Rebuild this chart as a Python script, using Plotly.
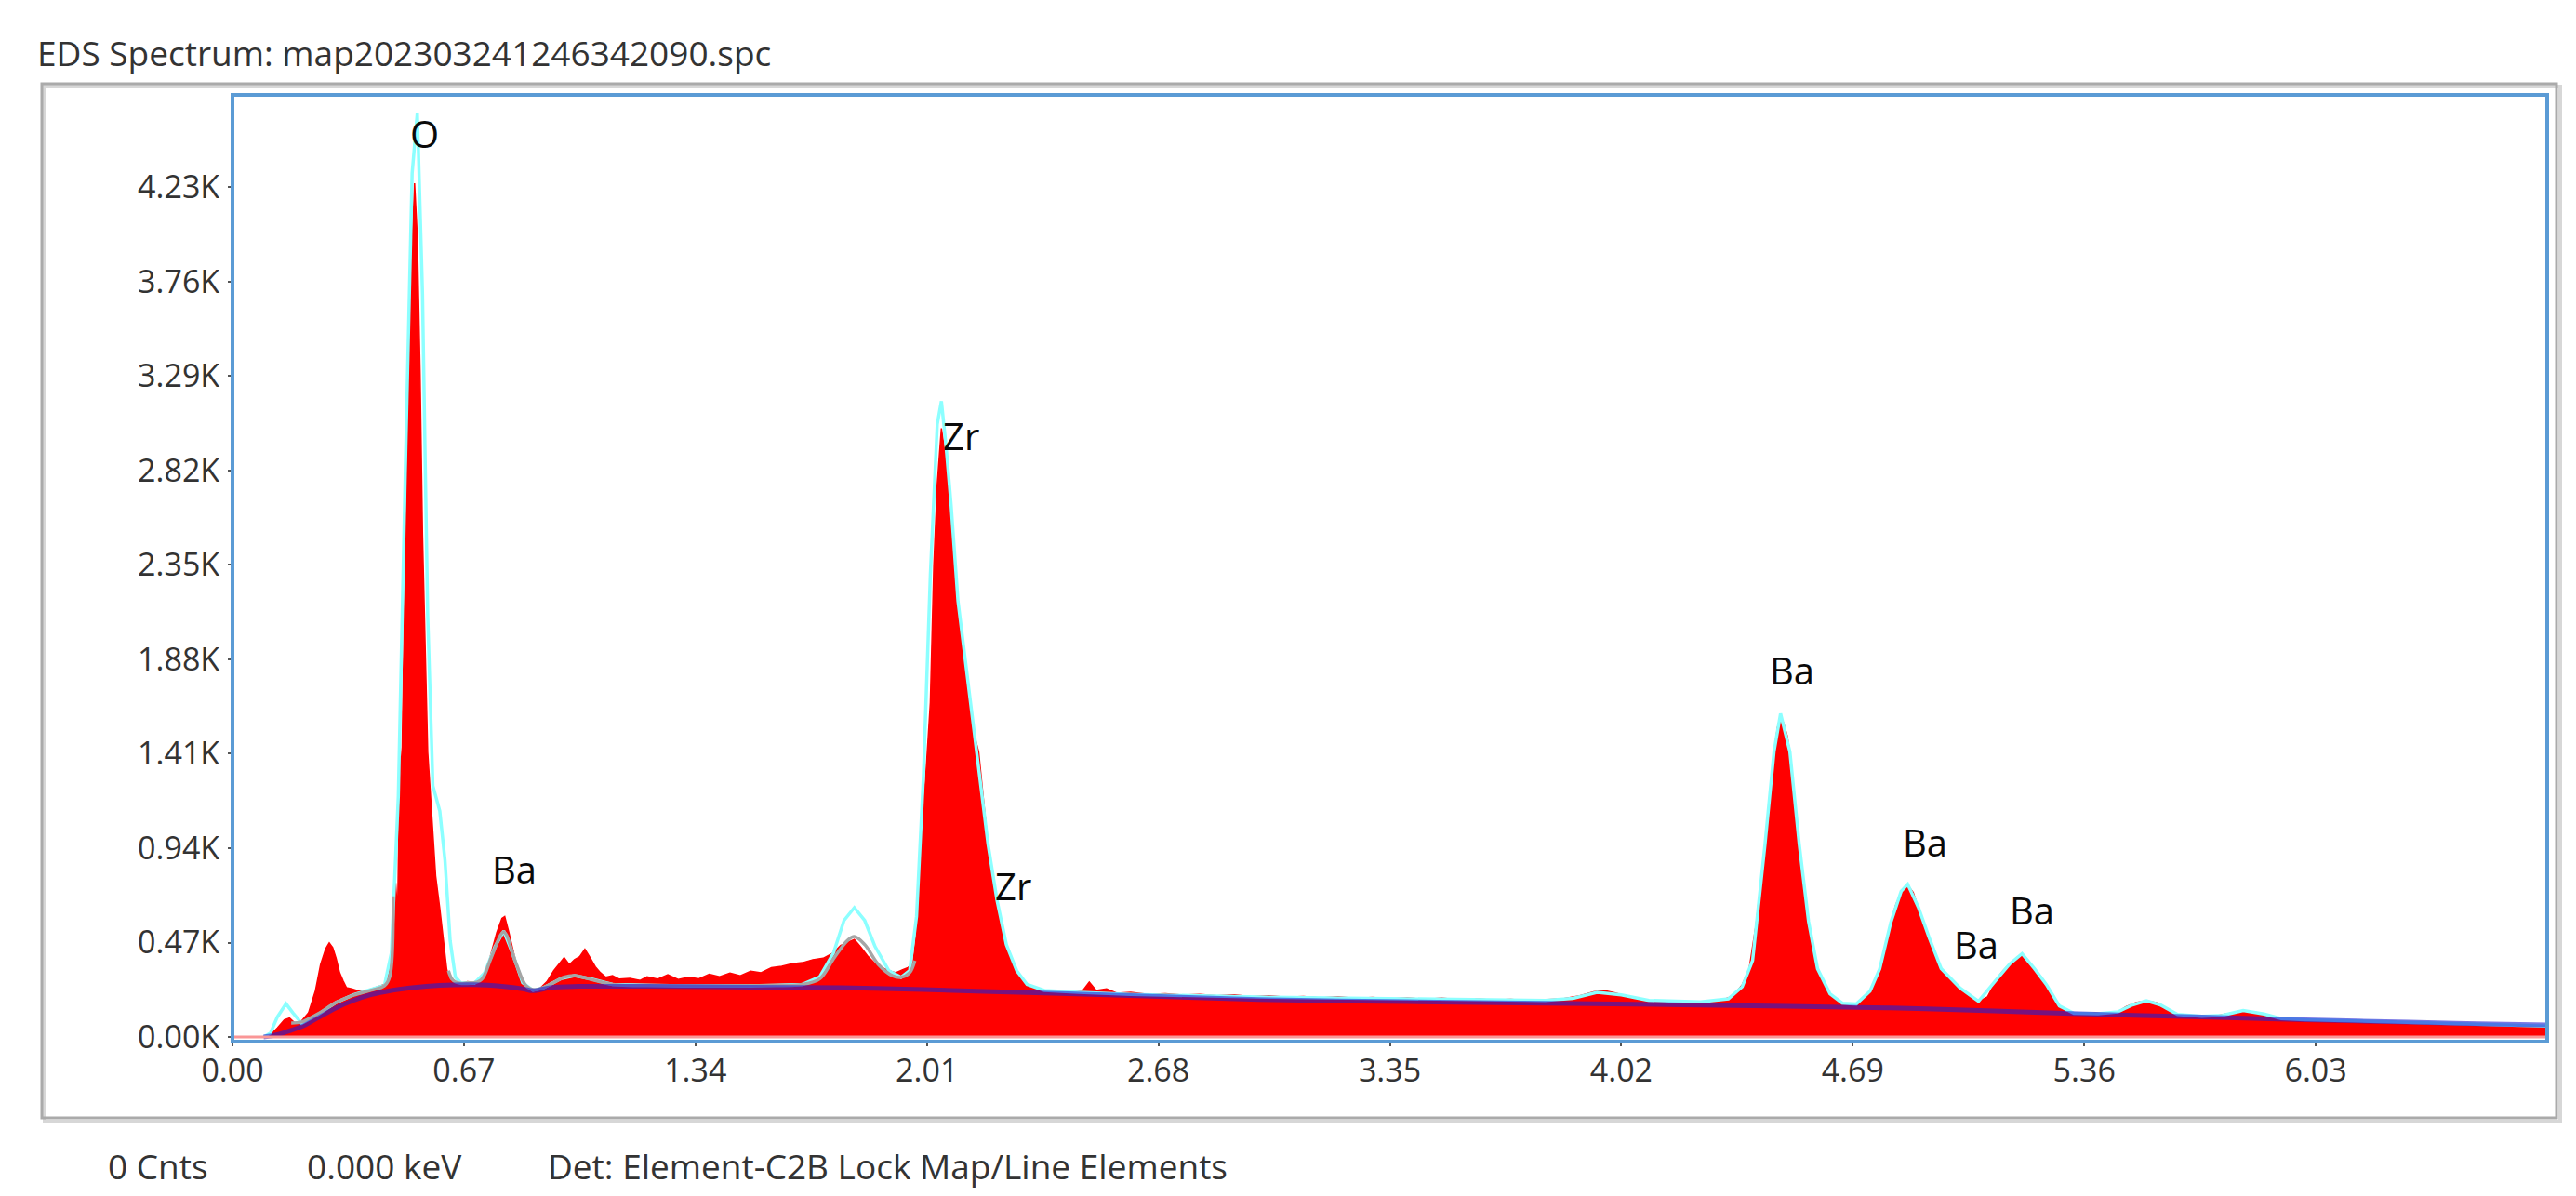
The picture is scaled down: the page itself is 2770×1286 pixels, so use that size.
import plotly.graph_objects as go

# ---------------- data ----------------
# measured spectrum (red filled)
spec_keV = [0.00, 0.09, 0.11, 0.13, 0.15, 0.165, 0.18, 0.20, 0.22, 0.24, 0.255, 0.27, 0.28, 0.29, 0.30, 0.31, 0.32, 0.33,
            0.345, 0.36, 0.38, 0.40, 0.42, 0.44, 0.455, 0.465, 0.472, 0.478, 0.485, 0.49, 0.497, 0.505, 0.512, 0.52,
            0.527, 0.535, 0.543, 0.55, 0.558, 0.565, 0.575, 0.588, 0.60, 0.61, 0.62, 0.628, 0.64, 0.66, 0.68, 0.70,
            0.72, 0.735, 0.75, 0.765, 0.78, 0.788, 0.80, 0.815, 0.83, 0.845, 0.86, 0.875, 0.89, 0.91, 0.93, 0.95,
            0.96, 0.975, 0.99, 1.005, 1.02, 1.035, 1.05, 1.065, 1.08, 1.10, 1.12, 1.15, 1.18, 1.20, 1.23, 1.26, 1.29,
            1.32, 1.35, 1.38, 1.41, 1.44, 1.47, 1.50, 1.53, 1.56, 1.59, 1.62, 1.65, 1.68, 1.71, 1.74, 1.76, 1.78,
            1.80, 1.82, 1.84, 1.86, 1.88, 1.90, 1.92, 1.94, 1.955, 1.97, 1.98, 1.99, 2.006, 2.02, 2.03, 2.04, 2.052,
            2.063, 2.074, 2.087, 2.10, 2.112, 2.123, 2.135, 2.146, 2.16, 2.173, 2.187, 2.20, 2.213, 2.226, 2.24,
            2.253, 2.267, 2.283, 2.30, 2.325, 2.35, 2.38, 2.42, 2.46, 2.48, 2.50, 2.53, 2.56, 2.60, 2.65, 2.70, 2.75,
            2.80, 2.85, 2.90, 2.95, 3.00, 3.05, 3.10, 3.15, 3.20, 3.25, 3.30, 3.35, 3.40, 3.45, 3.50, 3.55, 3.60,
            3.65, 3.70, 3.75, 3.80, 3.85, 3.90, 3.94, 3.97, 4.00, 4.04, 4.08, 4.12, 4.16, 4.20, 4.24, 4.28, 4.31,
            4.33, 4.347, 4.37, 4.39, 4.41, 4.436, 4.45, 4.462, 4.472, 4.481, 4.49, 4.50, 4.508, 4.52, 4.535, 4.548,
            4.562, 4.575, 4.588, 4.605, 4.624, 4.64, 4.66, 4.678, 4.70, 4.72, 4.74, 4.755, 4.768, 4.785, 4.80, 4.815,
            4.83, 4.849, 4.865, 4.88, 4.895, 4.911, 4.93, 4.946, 4.97, 5.00, 5.025, 5.054, 5.08, 5.108, 5.125, 5.145,
            5.165, 5.18, 5.20, 5.216, 5.235, 5.25, 5.27, 5.288, 5.306, 5.33, 5.36, 5.39, 5.42, 5.457, 5.48, 5.51,
            5.54, 5.57, 5.60, 5.63, 5.66, 5.70, 5.74, 5.78, 5.82, 5.86, 5.91, 5.95, 6.00, 6.05, 6.10, 6.15, 6.20,
            6.25, 6.30, 6.35, 6.40, 6.45, 6.50, 6.55, 6.60, 6.65, 6.70]
spec_counts = [0, 0, 10, 45, 85, 95, 70, 80, 120, 230, 360, 440, 468, 445, 390, 320, 280, 245,
               240, 232, 226, 238, 250, 262, 330, 560, 770, 620, 1450, 1300, 2100, 2900, 3400, 3950,
               4250, 3980, 3300, 2500, 1900, 1418, 1150, 802, 640, 491, 338, 285, 272, 268, 276, 272,
               295, 330, 420, 520, 590, 600, 520, 410, 320, 262, 240, 235, 242, 275, 330, 370,
               395, 360, 385, 400, 437, 395, 350, 320, 298, 305, 288, 292, 282, 300, 288, 310, 286,
               298, 290, 312, 300, 318, 305, 328, 320, 345, 352, 365, 370, 385, 392, 420, 455, 470,
               485, 445, 400, 366, 345, 330, 320, 335, 345, 370, 520, 955, 1280, 1664, 2345, 2750, 3030,
               2900, 2748, 2430, 2127, 1960, 1821, 1650, 1511, 1418, 1180, 955, 800, 677, 560, 459,
               390, 338, 290, 260, 240, 227, 225, 222, 228, 273, 232, 240, 218, 222, 212, 215, 208,
               212, 205, 210, 200, 205, 198, 202, 195, 200, 192, 197, 190, 195, 188, 193, 186, 190,
               184, 188, 182, 186, 190, 205, 225, 232, 220, 200, 185, 178, 175, 176, 172, 178, 185,
               195, 213, 260, 338, 560, 955, 1200, 1418, 1540, 1603, 1560, 1500, 1418, 1200, 955, 760,
               570, 440, 338, 270, 213, 185, 167, 160, 165, 185, 230, 280, 338, 450, 570, 660,
               720, 755, 720, 640, 560, 491, 410, 338, 290, 245, 205, 176, 200, 292, 330, 366,
               395, 412, 375, 338, 300, 260, 200, 153, 125, 118, 115, 120, 118, 125, 150, 172,
               181, 170, 140, 110, 105, 102, 105, 118, 130, 122, 95, 88, 85, 82, 84, 79, 76,
               78, 72, 70, 68, 66, 63, 60, 58, 55, 52]

# fitted spectrum (cyan line)
fit_keV = [0.09, 0.11, 0.13, 0.155, 0.175, 0.20, 0.25, 0.30, 0.35, 0.40, 0.44, 0.46, 0.48, 0.50, 0.52, 0.535, 0.55,
           0.565, 0.58, 0.60, 0.615, 0.63, 0.645, 0.66, 0.70, 0.73, 0.76, 0.785, 0.81, 0.84, 0.87, 0.90, 0.95, 0.99,
           1.04, 1.10, 1.30, 1.50, 1.65, 1.70, 1.74, 1.77, 1.80, 1.83, 1.86, 1.90, 1.935, 1.96, 1.98, 2.00, 2.02,
           2.04, 2.052, 2.065, 2.08, 2.10, 2.125, 2.15, 2.17, 2.187, 2.213, 2.24, 2.27, 2.30, 2.35, 2.45, 2.60,
           2.80, 3.00, 3.40, 3.80, 3.88, 3.95, 4.02, 4.10, 4.25, 4.33, 4.37, 4.40, 4.436, 4.462, 4.481, 4.508,
           4.535, 4.562, 4.588, 4.624, 4.66, 4.70, 4.74, 4.768, 4.80, 4.83, 4.849, 4.88, 4.911, 4.946, 5.00, 5.054,
           5.108, 5.145, 5.18, 5.216, 5.25, 5.288, 5.33, 5.40, 5.457, 5.50, 5.54, 5.58, 5.63, 5.70, 5.76, 5.82,
           5.88, 5.93, 6.00, 6.20, 6.40, 6.60, 6.70]
fit_counts = [0, 20, 100, 165, 120, 68, 115, 172, 210, 235, 258, 420, 1200, 2800, 4300, 4600, 3700,
              2100, 1250, 1125, 880, 480, 300, 270, 268, 320, 450, 528, 420, 270, 232, 245, 290, 306,
              288, 262, 255, 255, 262, 300, 420, 580, 644, 580, 450, 330, 297, 330, 600, 1300, 2300,
              3050, 3165, 2950, 2650, 2170, 1830, 1470, 1200, 960, 680, 460, 330, 262, 232, 222, 212,
              205, 198, 190, 182, 192, 222, 210, 182, 175, 190, 250, 380, 960, 1420, 1610, 1420,
              960, 575, 340, 215, 168, 164, 228, 340, 570, 725, 760, 645, 495, 340, 245, 178,
              290, 365, 415, 340, 262, 155, 118, 116, 125, 160, 180, 160, 112, 103, 108, 132,
              115, 92, 86, 77, 68, 58, 55]

# second fit curve (grey line, low-energy part)
grey_keV = [0.17, 0.20, 0.25, 0.30, 0.35, 0.40, 0.44, 0.455, 0.465, None, 0.625, 0.64, 0.68, 0.72, 0.75, 0.785,
            0.82, 0.85, 0.875, 0.92, 0.96, 0.99, 1.04, 1.10, 1.30, 1.50, 1.65, 1.70, 1.74, 1.78, 1.80, 1.83,
            1.87, 1.91, 1.935, 1.96, 1.975]
grey_counts = [70, 75, 118, 172, 208, 232, 255, 300, 700, None, 330, 280, 266, 285, 400, 522,
               370, 255, 235, 262, 298, 306, 286, 262, 256, 256, 262, 290, 390, 480, 500, 460,
               360, 305, 297, 320, 380]

# background (blue/purple line)
bg_keV = [0.09, 0.12, 0.15, 0.20, 0.25, 0.30, 0.35, 0.40, 0.46, 0.52, 0.60, 0.70, 0.78, 0.84, 0.87, 0.92, 1.00,
          1.20, 1.50, 1.76, 2.00, 2.30, 2.60, 2.97, 3.40, 3.80, 4.20, 4.50, 4.80, 5.10, 5.30, 5.53, 5.80, 6.00,
          6.30, 6.50, 6.70]
bg_counts = [0, 8, 22, 52, 98, 145, 182, 210, 232, 246, 257, 260, 252, 240, 230, 246, 252,
             252, 248, 245, 236, 221, 206, 186, 176, 168, 160, 153, 145, 130, 118, 107, 95, 86,
             74, 66, 60]

# element labels (energy / count level where each label sits)
label_text = ["O", "Ba", "Zr", "Zr", "Ba", "Ba", "Ba", "Ba"]
label_keV = [0.510, 0.745, 2.050, 2.203, 4.444, 4.828, 4.976, 5.138]
label_counts = [4500, 838, 2994, 754, 1828, 972, 463, 634]

# axes
x_tick_vals = [0.00, 0.67, 1.34, 2.01, 2.68, 3.35, 4.02, 4.69, 5.36, 6.03]
x_tick_text = ["0.00", "0.67", "1.34", "2.01", "2.68", "3.35", "4.02", "4.69", "5.36", "6.03"]
y_tick_vals = [0, 470, 940, 1410, 1880, 2350, 2820, 3290, 3760, 4230]
y_tick_text = ["0.00K", "0.47K", "0.94K", "1.41K", "1.88K", "2.35K", "2.82K", "3.29K", "3.76K", "4.23K"]

title_text = "EDS Spectrum: map202303241246342090.spc"
status_texts = ["0 Cnts", "0.000 keV", "Det: Element-C2B Lock Map/Line Elements"]

# ---------------- layout helpers (pixels -> paper) ----------------
W, H = 2770, 1286
L, R, T, B = 242, 2731, 94, 1112
PW, PH = R - L, B - T


def xp(px):
    return (px - L) / PW


def yp(py):
    return (B - py) / PH


FONT = "Open Sans"
TXT = "#333333"

fig = go.Figure()

fig.add_trace(go.Scatter(x=spec_keV, y=spec_counts, mode="lines", fill="tozeroy",
                         fillcolor="#ff0000", line=dict(color="#ff0000", width=1.5),
                         hoverinfo="skip", showlegend=False))
fig.add_trace(go.Scatter(x=fit_keV, y=fit_counts, mode="lines",
                         line=dict(color="rgb(140,255,255)", width=3.5),
                         hoverinfo="skip", showlegend=False))
fig.add_trace(go.Scatter(x=grey_keV, y=grey_counts, mode="lines", connectgaps=False,
                         line=dict(color="rgb(165,165,165)", width=3.5, shape="spline"),
                         hoverinfo="skip", showlegend=False))
fig.add_trace(go.Scatter(x=bg_keV, y=bg_counts, mode="lines",
                         line=dict(color="rgba(30,30,210,0.6)", width=5, shape="spline"),
                         hoverinfo="skip", showlegend=False))

annotations = []
for t, xv, yv in zip(label_text, label_keV, label_counts):
    annotations.append(dict(x=xv, y=yv, xref="x", yref="y", text=t, showarrow=False,
                            xanchor="left", yanchor="middle",
                            font=dict(family=FONT, size=40, color="#0a0a0a")))

annotations.append(dict(x=xp(30), y=yp(48), xref="paper", yref="paper", text=title_text,
                        showarrow=False, xanchor="left", yanchor="middle",
                        font=dict(family=FONT, size=37, color=TXT)))
for t, px in zip(status_texts, [106, 320, 579]):
    annotations.append(dict(x=xp(px), y=yp(1245), xref="paper", yref="paper", text=t,
                            showarrow=False, xanchor="left", yanchor="middle",
                            font=dict(family=FONT, size=37, color=TXT)))

shapes = [
    # outer frame shadow + frame
    dict(type="rect", xref="paper", yref="paper", x0=xp(40), y0=yp(1198), x1=xp(2745), y1=yp(85),
         line=dict(color="rgb(215,215,215)", width=4), layer="below"),
    dict(type="rect", xref="paper", yref="paper", x0=xp(37), y0=yp(1194), x1=xp(2741), y1=yp(82),
         line=dict(color="rgb(170,170,170)", width=3), layer="below"),
    # pink base line of the spectrum
    dict(type="line", xref="paper", yref="y", x0=0, x1=1, y0=0, y1=0,
         line=dict(color="rgb(250,150,150)", width=3), layer="above"),
    # plot border
    dict(type="rect", xref="paper", yref="paper", x0=0, y0=0, x1=1, y1=1,
         line=dict(color="rgb(91,155,213)", width=4), layer="above"),
]

fig.update_layout(
    width=W, height=H, autosize=False,
    margin=dict(l=L, r=W - R, t=T, b=H - B, pad=0),
    paper_bgcolor="white", plot_bgcolor="white",
    showlegend=False,
    annotations=annotations, shapes=shapes,
    font=dict(family=FONT, color=TXT),
)
fig.update_xaxes(range=[0, 6.70], tickvals=x_tick_vals, ticktext=x_tick_text,
                 showgrid=False, zeroline=False, showline=False,
                 ticks="outside", ticklen=4, tickwidth=2, tickcolor="#555555",
                 ticklabelstandoff=-3,
                 tickfont=dict(family=FONT, size=34, color=TXT))
fig.update_yaxes(range=[-23, 4690], tickvals=y_tick_vals, ticktext=y_tick_text,
                 showgrid=False, zeroline=False, showline=False,
                 ticks="outside", ticklen=4, tickwidth=2, tickcolor="#555555",
                 ticklabelstandoff=2,
                 tickfont=dict(family=FONT, size=34, color=TXT))

fig.write_html("out.html")
